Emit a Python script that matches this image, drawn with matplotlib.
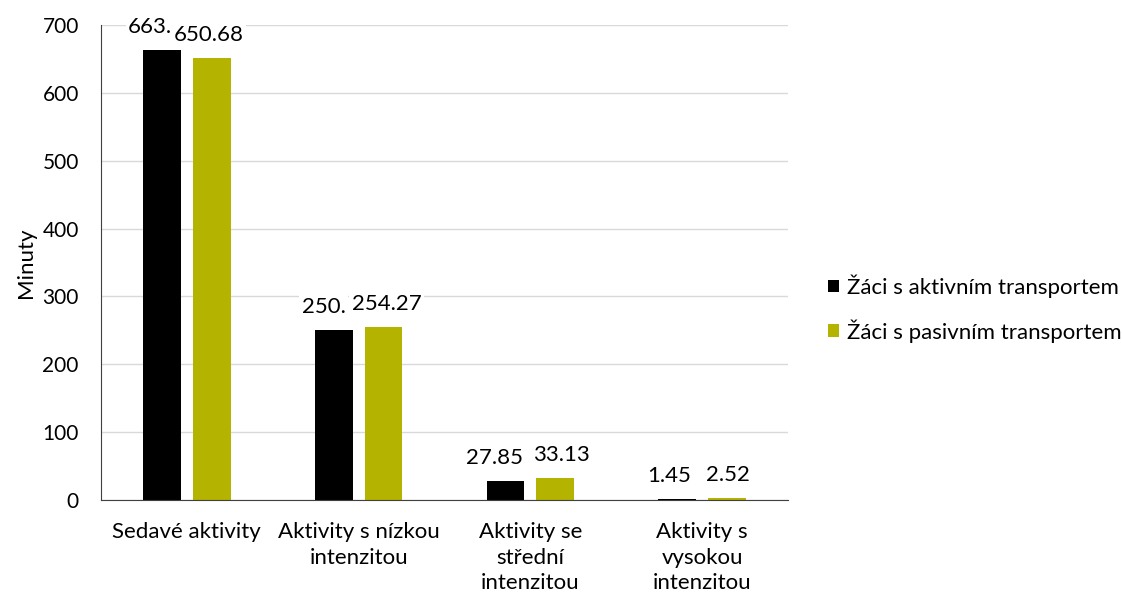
import numpy as np
import matplotlib.pyplot as plt

plt.rcParams['font.family'] = ['Lato', 'DejaVu Sans']

categories = ['Sedavé aktivity', 'Aktivity s nízkou\nintenzitou',
              'Aktivity se\nstřední\nintenzitou', 'Aktivity s\nvysokou\nintenzitou']
aktivni = [663.0, 250.0, 27.85, 1.45]
pasivni = [650.68, 254.27, 33.13, 2.52]
# labels as they appear (the first two got clipped in the original chart)
aktivni_lbl = ['663.', '250.', '27.85', '1.45']
pasivni_lbl = ['650.68', '254.27', '33.13', '2.52']
# small horizontal nudges of the data labels, in pixels
aktivni_dx = [-34, -32, -11, -8]
pasivni_dx = [-3, 3, 6, 1]

fig = plt.figure(figsize=(11.22, 6.01), dpi=100)
ax = fig.add_axes([101 / 1122, 101 / 601, 687 / 1122, 475 / 601])

x = np.arange(len(categories))
w = 0.22
off = 0.145
b1 = ax.bar(x - off, aktivni, w, color='#000000', label='Žáci s aktivním transportem', zorder=3)
b2 = ax.bar(x + off, pasivni, w, color='#b3b300', label='Žáci s pasivním transportem', zorder=3)

px = 72 / 100  # one pixel in points
for bars, lbls, dxs, z in ((b1, aktivni_lbl, aktivni_dx, 4), (b2, pasivni_lbl, pasivni_dx, 5)):
    for r, t, dx in zip(bars, lbls, dxs):
        clipped = t.endswith('.')
        ax.annotate(t, (r.get_x() + r.get_width() / 2, r.get_height()),
                    xytext=(dx * px, 17 * px), textcoords='offset points',
                    ha='left' if clipped else 'center', va='baseline',
                    fontsize=16, zorder=z,
                    bbox=dict(boxstyle='square,pad=0.1', fc='white', ec='none'))

ax.set_xlim(-0.5, 3.5)
ax.set_ylim(0, 700)
ax.set_yticks(range(0, 701, 100))
ax.set_xticks(x)
ax.set_xticklabels(categories, fontsize=16, linespacing=1.33)
ax.tick_params(axis='y', labelsize=15, length=0, pad=16)
ax.tick_params(axis='x', length=0, pad=16)
ax.grid(axis='y', color='#d9d9d9', linewidth=1, zorder=0)
for s in ('top', 'right'):
    ax.spines[s].set_visible(False)
for s in ('bottom', 'left'):
    ax.spines[s].set_color('#404040')
    ax.spines[s].set_zorder(6)
ax.set_ylabel('Minuty', fontsize=16)
ax.yaxis.set_label_coords(-0.094, 0.5)

ax.legend(loc='center left', bbox_to_anchor=(828 / 1122, 0.4867), bbox_transform=fig.transFigure,
          frameon=False, fontsize=16, borderpad=0, borderaxespad=0,
          handlelength=0.5, handleheight=0.5, handletextpad=0.36, labelspacing=0.95)

fig.savefig('out.png', dpi=100)
